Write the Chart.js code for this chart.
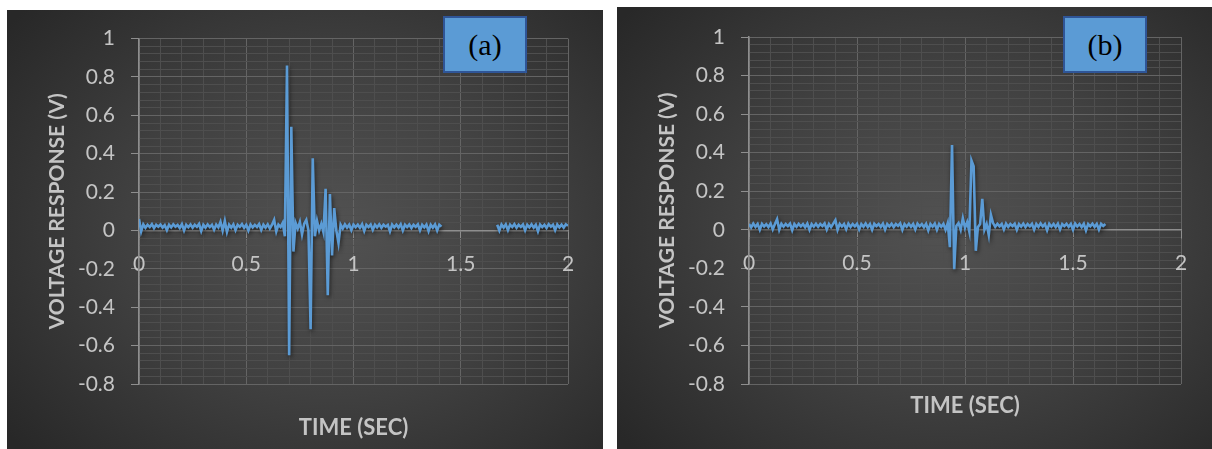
<!DOCTYPE html>
<html>
<head>
<meta charset="utf-8">
<script src="https://cdn.jsdelivr.net/npm/chart.js@4.4.1/dist/chart.umd.min.js"></script>
<style>
  html, body { margin: 0; padding: 0; background: #ffffff; }
  body { width: 1212px; height: 449px; position: relative; overflow: hidden; }
  .panel { position: absolute; background: radial-gradient(ellipse 70% 75% at 55% 50%, #525252 0%, #404040 50%, #282828 100%); }
  .panel canvas { position: absolute; left: 0; top: 0; }
  .tag { position: absolute; box-sizing: border-box; width: 84px; height: 57px; background: #5B9BD5; border: 2px solid #2F5597;
         font-family: "Liberation Serif", "Times New Roman", serif; font-size: 30px; color: #000; display: flex; align-items: center; justify-content: center; }
</style>
</head>
<body>
<div class="panel" id="pa" style="left:7px; top:10px; width:596px; height:439px;"><canvas id="ca" width="596" height="439"></canvas></div>
<div class="panel" id="pb" style="left:617px; top:7px; width:595px; height:442px;"><canvas id="cb" width="595" height="442"></canvas></div>
<div class="tag" style="left:443px; top:16px;">(a)</div>
<div class="tag" style="left:1063px; top:16px;">(b)</div>
<script>
// ---- data ----
const sampleStep = 0.01;           // seconds between samples
const xTicksMajor = [0, 0.5, 1, 1.5, 2];
const yTicksMajor = [1, 0.8, 0.6, 0.4, 0.2, 0, -0.2, -0.4, -0.6, -0.8];
const xTitle = 'TIME (SEC)';
const yTitle = 'VOLTAGE RESPONSE (V)';

// panel (a): voltage response (V), one value per sample, null = no record
const voltageA = [
  0.06, -0.005, 0.032, 0.014, 0.03, 0.018, 0.033, 0.012, 0.03, 0.02,
  0.031, 0.015, 0.028, 0.002, 0.03, 0.016, 0.032, 0.02, 0.029, 0.013,
  0.033, 0.0, 0.03, 0.017, 0.031, 0.014, 0.03, 0.019, 0.034, -0.003,
  0.03, 0.015, 0.032, 0.018, 0.03, 0.004, 0.031, 0.016, 0.045, 0.0,
  0.05, -0.008, 0.03, 0.015, 0.032, 0.002, 0.03, 0.019, 0.033, 0.014,
  0.03, 0.0, 0.031, 0.016, 0.029, 0.018, 0.034, 0.003, 0.03, 0.015,
  0.032, 0.01, 0.03, 0.055, -0.005, 0.031, 0.018, 0.04, -0.03, 0.86,
  -0.65, 0.54, -0.11, 0.04, 0.01, 0.045, -0.02, 0.035, 0.055, 0.0,
  -0.515, 0.376, -0.03, 0.05, 0.0, 0.035, -0.01, 0.217, -0.337, 0.19,
  -0.13, 0.117, 0.0, -0.065, 0.03, 0.01, 0.032, 0.015, 0.03, 0.002,
  0.031, 0.017, 0.03, 0.014, 0.033, -0.002, 0.03, 0.018, 0.031, 0.003,
  0.03, 0.016, 0.032, 0.014, 0.03, 0.02, 0.029, -0.004, 0.031, 0.016,
  0.03, 0.015, 0.033, 0.0, 0.03, 0.018, 0.031, 0.013, 0.03, 0.019,
  0.032, 0.001, 0.03, 0.016, 0.031, -0.003, 0.03, 0.015, 0.032, 0.0,
  0.03, 0.02,
  null, null, null, null, null, null, null, null, null, null,
  null, null, null, null, null, null, null, null, null, null,
  null, null, null, null, null,
  0.03, 0.0, 0.031, 0.015, 0.032, 0.002, 0.03, 0.018, 0.033, 0.014,
  0.03, 0.019, 0.031, 0.001, 0.03, 0.016, 0.032, 0.015, 0.03, -0.004,
  0.031, 0.018, 0.03, 0.013, 0.033, 0.02, 0.03, 0.002, 0.031, 0.016,
  0.03, 0.015, 0.032, 0.025
];

// panel (b): voltage response (V)
const voltageB = [
  0.03, 0.012, 0.032, 0.015, 0.03, 0.0, 0.031, 0.017, 0.029, 0.014,
  0.033, 0.002, 0.03, 0.055, 0.0, 0.031, 0.016, 0.03, 0.019, 0.032,
  -0.002, 0.03, 0.015, 0.031, 0.018, 0.03, 0.013, 0.032, 0.0, 0.03,
  0.016, 0.031, 0.015, 0.03, 0.019, 0.033, 0.001, 0.03, 0.014, 0.032,
  0.05, 0.0, 0.031, 0.017, 0.03, 0.003, 0.032, 0.015, 0.03, 0.018,
  0.031, 0.002, 0.03, 0.016, 0.033, 0.014, 0.03, 0.0, 0.031, 0.019,
  0.03, 0.015, 0.032, 0.001, 0.03, 0.017, 0.031, 0.014, 0.03, 0.02,
  0.033, 0.0, 0.03, 0.016, 0.031, 0.015, 0.03, 0.002, 0.032, 0.018,
  0.03, 0.013, 0.031, -0.003, 0.03, 0.016, 0.032, 0.0, 0.03, 0.015,
  0.031, 0.0, 0.035, -0.09, 0.44, -0.205, 0.02, 0.035, 0.0, 0.06,
  0.01, 0.04, -0.01, 0.359, 0.33, -0.109, 0.015, 0.03, 0.16, 0.0,
  0.03, -0.027, 0.077, 0.035, 0.015, 0.031, 0.018, 0.03, 0.002, 0.032,
  0.015, 0.03, 0.019, 0.031, 0.0, 0.03, 0.016, 0.032, 0.014, 0.03,
  0.018, 0.031, 0.001, 0.03, 0.015, 0.033, 0.017, 0.03, -0.002, 0.031,
  0.016, 0.03, 0.014, 0.032, 0.002, 0.03, 0.019, 0.031, 0.015, 0.03,
  0.0, 0.032, 0.017, 0.03, 0.014, 0.031, -0.003, 0.03, 0.018, 0.032,
  0.015, 0.03, 0.001, 0.031, 0.02, 0.03
];

// ---- helpers ----
function toPoints(values) {
  return values.map((v, i) => ({ x: Math.round(i * sampleStep * 1000) / 1000, y: v }));
}
function isIn(list, v) { return list.some(t => Math.abs(t - v) < 1e-6); }
function fmt(v) { const r = Math.round(v * 10) / 10; return String(Math.abs(r) < 1e-9 ? 0 : r); }

const TXT = '#c4c4c4';
const AXIS = '#8e8e8e';
const MAJOR = '#646464';
const MINOR = '#4e4e4e';

const shadowPlugin = {
  id: 'lineShadow',
  beforeDatasetsDraw(chart) {
    const c = chart.ctx; c.save();
    c.shadowColor = 'rgba(0,0,0,0.6)'; c.shadowBlur = 4; c.shadowOffsetX = 1; c.shadowOffsetY = 2;
  },
  afterDatasetsDraw(chart) { chart.ctx.restore(); }
};

function makeChart(canvasId, values, pad, titlePadTop) {
  return new Chart(document.getElementById(canvasId), {
    type: 'line',
    data: { datasets: [{ data: toPoints(values), borderColor: '#5B9BD5', borderWidth: 2.6, pointRadius: 0, tension: 0, spanGaps: false, fill: false }] },
    options: {
      responsive: false, animation: false, devicePixelRatio: 1,
      layout: { padding: pad },
      plugins: {
        legend: { display: false }, tooltip: { enabled: false },
        title: { display: true, text: xTitle, position: 'bottom', fullSize: false, color: TXT,
                 font: { family: 'Lato', size: 22, weight: 'bold' }, padding: { top: titlePadTop, bottom: 0 } }
      },
      scales: {
        x: {
          type: 'linear', min: 0, max: 2, position: { y: 0 },
          ticks: { stepSize: 0.1, maxTicksLimit: 100, autoSkip: false, maxRotation: 0, color: TXT, padding: 13,
                   font: { family: 'Lato', size: 21 }, callback: v => isIn(xTicksMajor, v) ? fmt(v) : '' },
          grid: { color: c => isIn(xTicksMajor, c.tick.value) ? MAJOR : MINOR, lineWidth: 1, tickLength: 8,
                  tickColor: c => isIn(xTicksMajor, c.tick.value) ? AXIS : 'rgba(0,0,0,0)' },
          border: { color: AXIS, width: 1.5 }
        },
        y: {
          type: 'linear', min: -0.8, max: 1, position: 'left',
          ticks: { stepSize: 0.04, maxTicksLimit: 100, autoSkip: false, color: TXT, padding: 16,
                   font: { family: 'Lato', size: 21 }, callback: v => isIn(yTicksMajor, v) ? fmt(v) : '' },
          grid: { color: c => isIn(yTicksMajor, c.tick.value) ? MAJOR : MINOR, lineWidth: 1, tickLength: 8,
                  tickColor: c => isIn(yTicksMajor, c.tick.value) ? AXIS : 'rgba(0,0,0,0)' },
          border: { color: AXIS, width: 1.5 },
          title: { display: true, text: yTitle, color: TXT, font: { family: 'Lato', size: 21, weight: 'bold' }, padding: { top: 37.5, bottom: 0 } },
          afterFit: s => { s.width = 132; }
        }
      }
    },
    plugins: [shadowPlugin]
  });
}

function draw() {
  makeChart('ca', voltageA, { left: 0, top: 28.5, right: 35, bottom: 7.8 }, 30.8);
  makeChart('cb', voltageB, { left: 0, top: 30, right: 31, bottom: 29.8 }, 8.8);
}
Promise.all([document.fonts.load('21px Lato'), document.fonts.load('bold 21px Lato')]).then(draw, draw);
</script>
</body>
</html>
